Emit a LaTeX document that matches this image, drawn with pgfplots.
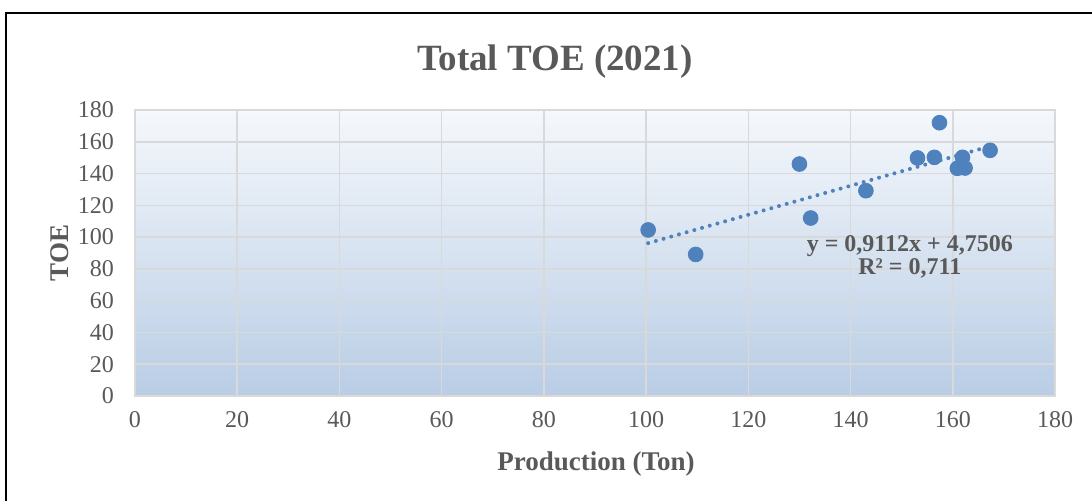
\documentclass[border=0pt]{standalone}
\usepackage{fontspec}
\setmainfont{Liberation Serif}
\usepackage{pgfplots}
\pgfplotsset{compat=1.18}
\definecolor{ptblue}{RGB}{79,129,189}
\definecolor{gridgray}{RGB}{217,217,217}
\definecolor{txtgray}{RGB}{89,89,89}
\definecolor{bgtop}{RGB}{245,248,252}
\definecolor{bgbot}{RGB}{185,205,229}
\begin{document}
\begin{tikzpicture}
% bounding box: 1092x501 px at 0.5pt/px, axis origin at px (135,396)
\path[use as bounding box] (-67.5pt,-52.5pt) rectangle (478.5pt,198pt);
\draw[black, line width=1.4pt] (-64.5pt,-60pt) -- (-64.5pt,191.5pt) -- (490pt,191.5pt);
\begin{axis}[
  scale only axis,
  width=460pt, height=143pt,
  xmin=0, xmax=180, ymin=0, ymax=180,
  xtick={0,20,...,180}, ytick={0,20,...,180},
  major tick length=0pt,
  grid=major,
  grid style={color=gridgray, line width=0.8pt},
  axis line style={color=gridgray, line width=0.8pt},
  axis background/.style={top color=bgtop, bottom color=bgbot},
  /pgf/number format/assume math mode=true,
  ticklabel style={font=\fontsize{12}{14}\selectfont, text=txtgray},
  xticklabel shift=4pt,
  yticklabel shift=7pt,
  title={Total TOE (2021)},
  title style={font=\fontsize{18.5}{20}\selectfont\bfseries, text=txtgray, at={(axis description cs:0.4565,1.126)}, anchor=center},
  xlabel={Production (Ton)},
  xlabel style={font=\fontsize{13.5}{15}\selectfont\bfseries, text=txtgray, at={(axis description cs:0.501,-0.237)}, anchor=center},
  ylabel={TOE},
  ylabel style={font=\fontsize{13.5}{15}\selectfont\bfseries, text=txtgray, at={(axis description cs:-0.0815,0.5)}, anchor=center, rotate=0},
]
\addplot[ptblue, line width=2pt, line cap=round, dash pattern=on 0pt off 4pt] coordinates {(100.4,96.2) (167.3,157.2)};
\addplot[only marks, mark=*, mark size=3.7pt, mark options={fill=ptblue, draw=ptblue}] coordinates {
(100.4,104.5) (109.7,89.1) (130.0,146.0) (132.2,112.0) (143.0,129.2) (153.1,149.8)
(156.4,150.2) (157.4,172.0) (161.9,150.2) (160.9,143.3) (162.4,143.5) (167.3,154.6)};
\node[align=center, font=\fontsize{12}{11.5}\selectfont\bfseries, text=txtgray] at (axis cs:151.6,87.4) {y = 0,9112x + 4,7506\\R² = 0,711};
\end{axis}
\end{tikzpicture}
\end{document}
